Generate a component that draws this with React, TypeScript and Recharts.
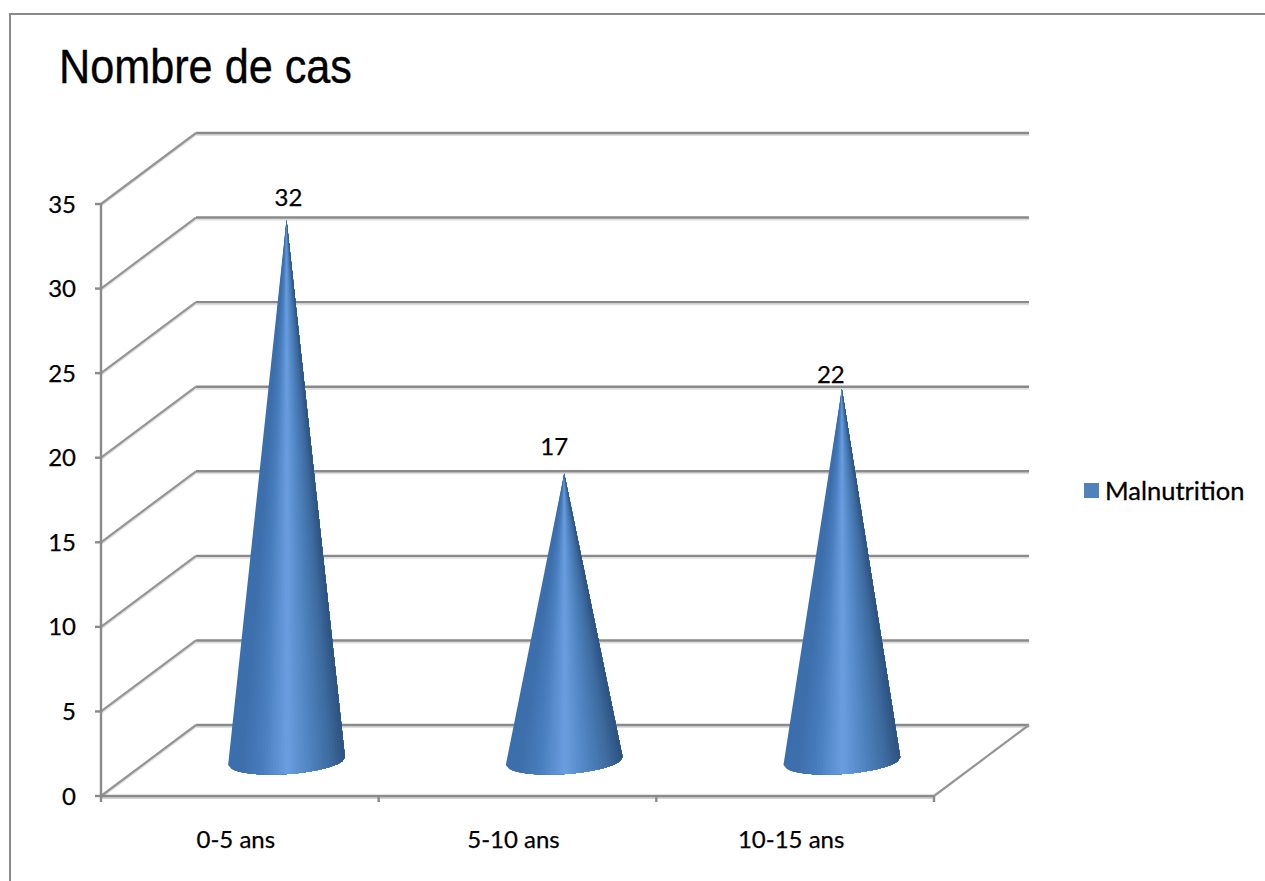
import React from 'react';
import { BarChart, Bar, XAxis, YAxis, CartesianGrid, Legend, LabelList } from 'recharts';

const categories = ['0-5 ans', '5-10 ans', '10-15 ans'];
const casCounts = [32, 17, 22];
const yTicks = [0, 5, 10, 15, 20, 25, 30, 35];
const seriesName = 'Malnutrition';
const chartTitle = 'Nombre de cas';

const chartData = categories.map((name, i) => ({ name, cas: casCounts[i] }));

const FONT = 'Lato, "Open Sans", sans-serif';
const AXIS_GREY = '#8a8a8a';
const SHADOW_GREY = '#dedede';

// Oblique offset of the back wall against the front plane
const DEPTH_X = 95;
const DEPTH_Y = 71;
// The cones stand halfway along the floor depth
const CONE_SHIFT_X = 47;
const CONE_LIFT = 35;
const BASE_RY = 13;
const BASE_TILT = (-3.9 * Math.PI) / 180;
const CONE_STRIPS = 40;
const LABEL_NUDGE = [
  { dx: 2, dy: -23 },
  { dx: -10, dy: -28 },
  { dx: -11, dy: -15 },
];

// Shading across the cone, left edge to right edge
const CONE_RAMP: [number, number[]][] = [
  [0, [58, 111, 174]],
  [0.12, [61, 111, 171]],
  [0.3, [74, 127, 192]],
  [0.5, [106, 158, 224]],
  [0.7, [78, 131, 192]],
  [0.88, [61, 106, 158]],
  [1, [43, 81, 127]],
];

const rampColor = (t: number) => {
  for (let i = 1; i < CONE_RAMP.length; i++) {
    const [p0, c0] = CONE_RAMP[i - 1];
    const [p1, c1] = CONE_RAMP[i];
    if (t <= p1) {
      const k = (t - p0) / (p1 - p0);
      const c = c0.map((v, j) => Math.round(v + (c1[j] - v) * k));
      return `rgb(${c[0]},${c[1]},${c[2]})`;
    }
  }
  return 'rgb(43,81,127)';
};

const WallLine = (props: any) => {
  const { x1, x2, y1, y, height } = props;
  const isFloor = Math.abs(y1 - (y + height)) < 0.5;
  const bx = x1 + DEPTH_X;
  const by = y1 - DEPTH_Y;
  return (
    <g fill="none">
      <line x1={x1} y1={y1 + 2} x2={bx} y2={by + 2} stroke={SHADOW_GREY} strokeWidth={1.5} />
      <line x1={bx} y1={by + 2} x2={x2 + DEPTH_X} y2={by + 2} stroke={SHADOW_GREY} strokeWidth={2} />
      <line x1={x1} y1={y1} x2={bx} y2={by} stroke="#959595" strokeWidth={2.2} />
      <line x1={bx} y1={by} x2={x2 + DEPTH_X} y2={by} stroke={AXIS_GREY} strokeWidth={2.4} />
      {isFloor && (
        <>
          <line x1={x1} y1={y1 + 2} x2={x2} y2={y1 + 2} stroke="#c4c4c4" strokeWidth={1.5} />
          <line x1={x2} y1={y1} x2={x2 + DEPTH_X} y2={by} stroke="#959595" strokeWidth={2.2} />
        </>
      )}
    </g>
  );
};

const Cone = (props: any) => {
  const { x, y, width, height } = props;
  const cx = x + width / 2 + CONE_SHIFT_X;
  const tipY = y - CONE_LIFT;
  const baseY = y + height - CONE_LIFT;
  const r = width / 2;
  // a point on the front half of the tilted base ellipse, u runs 0..1 left to right
  const basePoint = (u: number) => {
    const lx = (2 * u - 1) * r;
    const ly = BASE_RY * Math.sqrt(Math.max(0, 1 - (2 * u - 1) ** 2));
    return [cx + lx * Math.cos(BASE_TILT) - ly * Math.sin(BASE_TILT), baseY + lx * Math.sin(BASE_TILT) + ly * Math.cos(BASE_TILT)];
  };
  // each strip runs on to the right edge, the next one paints over it, so no seams show
  const strips = [];
  for (let i = 0; i < CONE_STRIPS; i++) {
    let d = `M${cx} ${tipY}`;
    for (let j = i; j <= CONE_STRIPS; j++) {
      const p = basePoint(j / CONE_STRIPS);
      d += ` L${p[0]} ${p[1]}`;
    }
    strips.push(<path key={i} d={`${d} Z`} fill={rampColor((i + 0.5) / CONE_STRIPS)} />);
  }
  return <g>{strips}</g>;
};

const ConeLabel = (props: any) => {
  const { x, y, width, value, index } = props;
  const nudge = LABEL_NUDGE[index];
  return (
    <text
      x={x + width / 2 + CONE_SHIFT_X + nudge.dx}
      y={y - CONE_LIFT + nudge.dy}
      textAnchor="middle"
      dominantBaseline="central"
      fontFamily={FONT}
      fontSize={24}
      fill="#000"
      stroke="#000"
      strokeWidth={0.25}
    >
      {value}
    </text>
  );
};

const CategoryTick = (props: any) => {
  const { x, y, payload, index } = props;
  const half = payload.offset;
  return (
    <g>
      {index === 0 && <line x1={x - half} y1={y - 8} x2={x - half} y2={y - 2} stroke={AXIS_GREY} strokeWidth={2.4} />}
      <line x1={x + half} y1={y - 8} x2={x + half} y2={y - 2} stroke={AXIS_GREY} strokeWidth={2.4} />
      <text
        x={x - 4}
        y={y + 34}
        textAnchor="middle"
        dominantBaseline="central"
        fontFamily={FONT}
        fontSize={24}
        fill="#000"
        stroke="#000"
        strokeWidth={0.25}
      >
        {payload.value}
      </text>
    </g>
  );
};

const SeriesLegend = ({ payload }: any) => (
  <div
    style={{
      display: 'flex',
      alignItems: 'center',
      fontFamily: FONT,
      fontSize: 25.5,
      color: '#000',
      WebkitTextStroke: '0.3px #000',
    }}
  >
    {(payload || []).map((entry: any) => (
      <React.Fragment key={entry.value}>
        <span style={{ width: 15, height: 15, background: '#4F81BD', marginRight: 6, display: 'inline-block' }} />
        <span>{entry.value}</span>
      </React.Fragment>
    ))}
  </div>
);

export default function App() {
  return (
    <div style={{ position: 'absolute', left: 0, top: 0, width: 1265, height: 881, overflow: 'hidden', background: '#fff' }}>
      <div
        style={{
          position: 'absolute',
          left: 9,
          top: 13,
          width: 1300,
          height: 900,
          borderLeft: `2px solid ${AXIS_GREY}`,
          borderTop: `2px solid ${AXIS_GREY}`,
        }}
      />
      <div
        style={{
          position: 'absolute',
          left: 59,
          top: 37,
          fontFamily: '"Liberation Sans", sans-serif',
          fontSize: 48,
          lineHeight: '60px',
          color: '#000',
          whiteSpace: 'nowrap',
          transform: 'scaleX(0.9)',
          transformOrigin: 'left center',
          WebkitTextStroke: '0.4px #000',
        }}
      >
        {chartTitle}
      </div>
      <div style={{ position: 'absolute', left: 0, top: 0 }}>
        <BarChart
          width={1265}
          height={881}
          data={chartData}
          barSize={117}
          margin={{ top: 204, right: 331, bottom: 35, left: 51 }}
        >
          <CartesianGrid vertical={false} horizontal={(p: any) => <WallLine {...p} />} syncWithTicks />
          <XAxis
            dataKey="name"
            height={50}
            axisLine={{ stroke: AXIS_GREY, strokeWidth: 2.4 }}
            tickLine={false}
            tick={<CategoryTick />}
            interval={0}
          />
          <YAxis
            width={50}
            domain={[0, 35]}
            ticks={yTicks}
            interval={0}
            axisLine={{ stroke: AXIS_GREY, strokeWidth: 2.4 }}
            tickLine={{ stroke: AXIS_GREY, strokeWidth: 2.4 }}
            tickSize={6}
            tickMargin={19}
            tick={{ fill: '#000', stroke: '#000', strokeWidth: 0.25, fontFamily: FONT, fontSize: 24 }}
          />
          <Bar dataKey="cas" name={seriesName} fill="#4F81BD" shape={<Cone />} isAnimationActive={false}>
            <LabelList dataKey="cas" content={<ConeLabel />} />
          </Bar>
          <Legend
            layout="horizontal"
            verticalAlign="middle"
            content={<SeriesLegend />}
            wrapperStyle={{ position: 'absolute', left: 1084, top: 475, width: 175, bottom: 'auto' }}
          />
        </BarChart>
      </div>
    </div>
  );
}
